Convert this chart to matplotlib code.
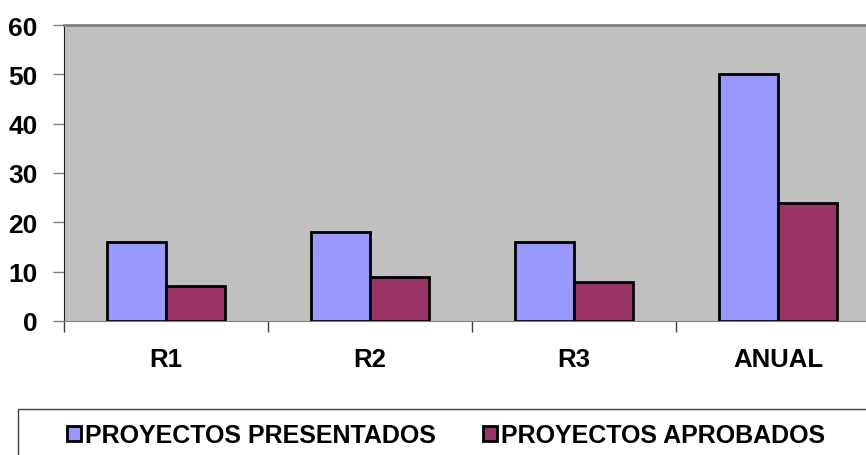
import numpy as np
import matplotlib; matplotlib.use('Agg')
import matplotlib.pyplot as plt
from matplotlib.patches import Rectangle

plt.rcParams['font.family'] = ['Liberation Sans', 'DejaVu Sans']
plt.rcParams['font.weight'] = 'bold'

# ---- datos ----
categorias = ['R1', 'R2', 'R3', 'ANUAL']
presentados = [16, 18, 16, 50]
aprobados = [7, 9, 8, 24]
series = ['PROYECTOS PRESENTADOS', 'PROYECTOS APROBADOS']

fig = plt.figure(figsize=(8.66, 4.56), dpi=100)
ax = fig.add_axes([64/866, 1 - 322/456, 816/866, 296/456])
ax.set_facecolor('#C0C0C0')

x = np.arange(len(categorias))
w = 0.29
ax.bar(x - w/2, presentados, w, color='#9999FF', edgecolor='black', lw=2, label=series[0])
ax.bar(x + w/2, aprobados, w, color='#993366', edgecolor='black', lw=2, label=series[1])

ax.set_xlim(-0.5, len(categorias) - 0.5)
ax.set_ylim(0, 60)
ax.set_yticks(range(0, 61, 10))
ax.tick_params(axis='y', labelsize=19, length=8, color='#808080', width=1, pad=11)
ax.set_xticks(x)
ax.set_xticklabels(categorias, fontsize=18.5)
ax.set_xticks(np.arange(-0.5, len(categorias)), minor=True)
ax.tick_params(axis='x', which='major', length=0, pad=19)
ax.tick_params(axis='x', which='minor', length=8, color='#404040', width=1)
for s in ['top', 'bottom', 'right']:
    ax.spines[s].set_color('#808080')
ax.spines['left'].set_color('#202020')
ax.spines['top'].set_linewidth(2)

# ---- leyenda ----
fig.patches.append(Rectangle((18/866, -0.05), 860/866, 1 - 410/456 + 0.05,
                             transform=fig.transFigure, fill=False, ec='#404040', lw=1))
fig.legend(loc='center', bbox_to_anchor=(446/866, 1 - 436/456), ncol=2, frameon=False,
           fontsize=18, handlelength=0.55, handleheight=0.55, handletextpad=0.15,
           columnspacing=1.9)

plt.savefig('out.png', dpi=100)
